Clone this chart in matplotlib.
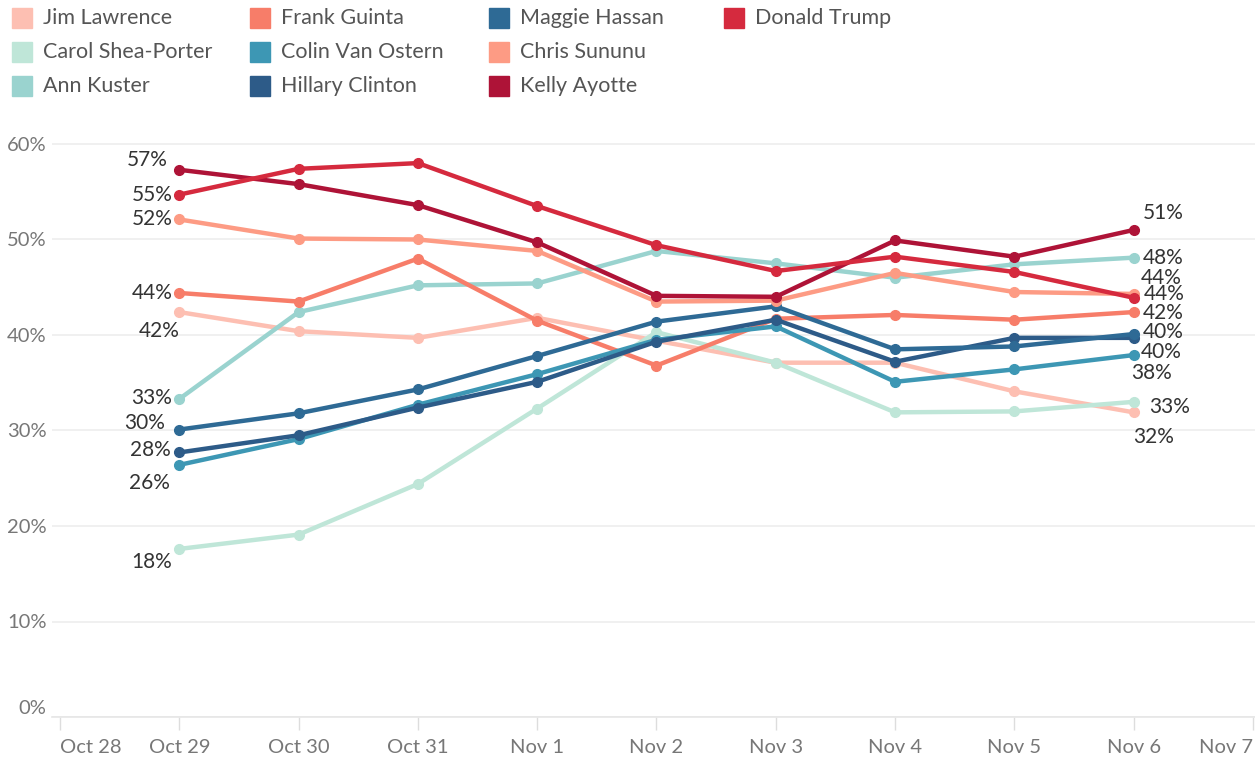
import matplotlib
matplotlib.use("Agg")
import matplotlib.pyplot as plt
import matplotlib.dates as mdates
import pandas as pd
import numpy as np
from matplotlib.patches import Rectangle

plt.rcParams['font.family'] = ['Lato', 'DejaVu Sans']

dates = pd.to_datetime(["2016-10-29", "2016-10-30", "2016-10-31", "2016-11-01", "2016-11-02",
                        "2016-11-03", "2016-11-04", "2016-11-05", "2016-11-06"])
tick_dates = pd.date_range("2016-10-28", "2016-11-07", freq="D")
tick_labels = ["Oct 28", "Oct 29", "Oct 30", "Oct 31", "Nov 1", "Nov 2", "Nov 3",
               "Nov 4", "Nov 5", "Nov 6", "Nov 7"]

names = ["Jim Lawrence", "Carol Shea-Porter", "Ann Kuster",
         "Frank Guinta", "Colin Van Ostern", "Hillary Clinton",
         "Maggie Hassan", "Chris Sununu", "Kelly Ayotte",
         "Donald Trump"]

jim_lawrence = [42.4, 40.4, 39.7, 41.8, 39.4, 37.1, 37.1, 34.1, 31.9]
carol_shea_porter = [17.6, 19.1, 24.4, 32.3, 40.3, 37.1, 31.9, 32.0, 33.0]
ann_kuster = [33.3, 42.4, 45.2, 45.4, 48.8, 47.5, 46.0, 47.4, 48.1]
frank_guinta = [44.4, 43.5, 48.0, 41.5, 36.8, 41.7, 42.1, 41.6, 42.4]
colin_van_ostern = [26.4, 29.1, 32.7, 35.9, 39.5, 40.9, 35.1, 36.4, 37.9]
hillary_clinton = [27.7, 29.5, 32.4, 35.1, 39.3, 41.6, 37.2, 39.7, 39.7]
maggie_hassan = [30.1, 31.8, 34.3, 37.8, 41.4, 43.0, 38.5, 38.8, 40.1]
chris_sununu = [52.1, 50.1, 50.0, 48.8, 43.5, 43.6, 46.5, 44.5, 44.3]
kelly_ayotte = [57.3, 55.8, 53.6, 49.7, 44.1, 44.0, 49.9, 48.2, 51.0]
donald_trump = [54.7, 57.4, 58.0, 53.5, 49.4, 46.7, 48.2, 46.6, 43.9]

series = [jim_lawrence, carol_shea_porter, ann_kuster, frank_guinta, colin_van_ostern,
          hillary_clinton, maggie_hassan, chris_sununu, kelly_ayotte, donald_trump]

colors = ["#FDBFB2", "#BFE6D8", "#9AD3CF", "#F77D69", "#3D97B4",
          "#2D5B88", "#2E6A95", "#FD9B84", "#AE1337", "#D52A3E"]

# label offsets in pixels (dx, dy) for first and last point
start_off = [(0, -19), (-7, -13), (-7, 1), (-7, 0), (-9, -18),
             (-9, 2), (-14, 7), (-7, 0), (-12, 10), (-7, 0)]
end_off = [(-1, -25), (15, -5), (9, 0), (9, -1), (-3, -18),
           (7, -14), (9, 2), (10, 0), (9, 17), (7, 20)]

W, H = 1255, 758
fig = plt.figure(figsize=(W / 100, H / 100), dpi=100)
ax_left, ax_right, ax_top, ax_bottom = 52, 1255, 140, 717
ax = fig.add_axes([ax_left / W, (H - ax_bottom) / H, (ax_right - ax_left) / W, (ax_bottom - ax_top) / H])

day_px = 119.4
x0 = mdates.date2num(tick_dates[0]) - (60 - ax_left) / day_px
x1 = mdates.date2num(tick_dates[-1]) + (ax_right - 1253) / day_px
ax.set_xlim(x0, x1)
ax.set_ylim(0, (ax_bottom - ax_top) / 9.55)

for name, vals, col in zip(names, series, colors):
    ax.plot(dates, vals, color=col, lw=3.2, marker='o', ms=7, solid_capstyle='round',
            solid_joinstyle='round', zorder=3)

for vals, so, eo in zip(series, start_off, end_off):
    ax.annotate(f"{round(vals[0])}%", (dates[0], vals[0]), xytext=so, textcoords='offset pixels',
                ha='right', va='center', fontsize=15, color='#333333', zorder=5)
    ax.annotate(f"{round(vals[-1])}%", (dates[-1], vals[-1]), xytext=eo, textcoords='offset pixels',
                ha='left', va='center', fontsize=15, color='#333333', zorder=5)

ax.set_yticks(np.arange(0, 61, 10))
ax.set_yticklabels([f"{v}%" for v in range(0, 61, 10)])
ax.yaxis.grid(True, color='#EEEEEE', lw=1.2)
ax.set_axisbelow(True)
ax.tick_params(axis='y', length=0, pad=4, labelsize=14.5, labelcolor='#777777')
ylabels = ax.get_yticklabels()
ylabels[0].set_va('bottom')

ax.set_xticks(tick_dates)
ax.set_xticklabels(tick_labels)
ax.tick_params(axis='x', length=9, width=1, color='#DDDDDD', pad=7, labelsize=14.5, labelcolor='#777777')
xl = ax.get_xticklabels()
xl[0].set_ha('left')
xl[-1].set_ha('right')

for s in ['top', 'right', 'left']:
    ax.spines[s].set_visible(False)
ax.spines['bottom'].set_color('#E6E6E6')
ax.spines['bottom'].set_linewidth(1.2)

# legend (column-major, 3 rows)
col_x = [12, 250, 489, 724]
row_y = [18, 52, 86]
for i, (name, col) in enumerate(zip(names, colors)):
    c, r = divmod(i, 3)
    sx, sy = col_x[c], row_y[r]
    fig.patches.append(Rectangle((sx / W, 1 - (sy + 10) / H), 20 / W, 20 / H,
                                 transform=fig.transFigure, color=col, figure=fig))
    fig.text((sx + 31) / W, 1 - sy / H, name, ha='left', va='center', fontsize=15.5, color='#555555')

fig.savefig("out.png", dpi=100)
